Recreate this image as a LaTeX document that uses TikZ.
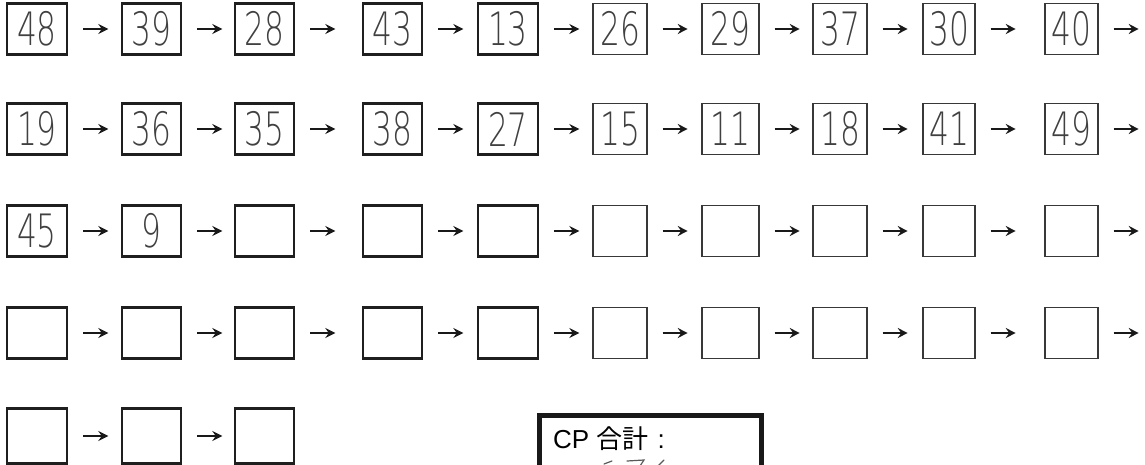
\documentclass[tikz,border=0pt]{standalone}
\usepackage{fontspec}
\setmainfont{Liberation Sans}
\newfontfamily\hand[FakeStretch=0.68]{DejaVu Sans ExtraLight}
\newfontfamily\cjk{Noto Sans CJK JP}
\usetikzlibrary{arrows.meta}
\begin{document}
\begin{tikzpicture}[x=1pt,y=-1pt,
  boxbase/.style={draw, inner sep=0pt, minimum height=51pt,
    font=\hand\fontsize{46}{46}\selectfont, text=black!75},
  boxthick/.style={boxbase, draw=black!88, line width=2.6pt},
  boxthin/.style={boxbase, draw=black!78, line width=1.4pt},
  arr/.style={draw=black!90, line width=1.9pt,
    -{Stealth[length=10pt,width=10pt,inset=3.5pt]}},
  cpbox/.style={draw=black!90, line width=5pt, anchor=north west,
    minimum width=222pt, minimum height=80pt, inner sep=0pt},
  cplabel/.style={anchor=base west, inner sep=0pt, font=\fontsize{26}{26}\selectfont},
  hw/.style={draw=black!65, line width=1.2pt, line cap=round}
]
\useasboundingbox (0,0) rectangle (1145,465);
\clip (0,0) rectangle (1145,465);

% row 1
\foreach \c/\x/\w/\t in {1/37/60/48,2/151.5/59/39,3/264.5/59/28,4/392.5/59/43,5/508/60/13,
  6/620/54/26,7/730.5/57/29,8/840/54/37,9/949/52/30,10/1071.5/53/40}{
  \ifnum\c<6 \def\st{boxthick}\else\def\st{boxthin}\fi
  \node[\st, minimum width=\w pt] (b1-\c) at (\x,29) {\t};
}
% row 2
\foreach \c/\x/\w/\t in {1/37/60/19,2/151.5/59/36,3/264.5/59/35,4/392.5/59/38,5/508/60/27,
  6/620/54/15,7/730.5/57/11,8/840/54/18,9/949/52/41,10/1071.5/53/49}{
  \ifnum\c<6 \def\st{boxthick}\else\def\st{boxthin}\fi
  \node[\st, minimum width=\w pt] (b2-\c) at (\x,129) {\t};
}
% row 3
\foreach \c/\x/\w/\t in {1/37/60/45,2/151.5/59/9,3/264.5/59/,4/392.5/59/,5/508/60/,
  6/620/54/,7/730.5/57/,8/840/54/,9/949/52/,10/1071.5/53/}{
  \ifnum\c<6 \def\st{boxthick}\else\def\st{boxthin}\fi
  \node[\st, minimum width=\w pt] (b3-\c) at (\x,231) {\t};
}
% row 4
\foreach \c/\x/\w in {1/37/60,2/151.5/59,3/264.5/59,4/392.5/59,5/508/60,
  6/620/54,7/730.5/57,8/840/54,9/949/52,10/1071.5/53}{
  \ifnum\c<6 \def\st{boxthick}\else\def\st{boxthin}\fi
  \node[\st, minimum width=\w pt] (b4-\c) at (\x,333) {};
}
% row 5
\foreach \c/\x/\w in {1/37/60,2/151.5/59,3/264.5/59}{
  \node[boxthick, minimum width=\w pt, minimum height=55pt] (b5-\c) at (\x,436) {};
}

% arrows
\foreach \r in {1,2,3,4}{
  \foreach \c in {1,...,10}{
    \draw[arr] ([xshift=15pt]b\r-\c.east) -- ++(25,0);
  }
}
\foreach \c in {1,2}{
  \draw[arr] ([xshift=15pt]b5-\c.east) -- ++(25,0);
}

% CP box
\node[cpbox] (cp) at (537,412.5) {};
\node[cplabel] (cptext) at (553,448) {CP {\cjk 合計}\hspace{9pt}:};

% partial handwriting at the cut edge
\draw[hw] (604,464) -- (612,461);
\draw[hw] (627,461) -- (644,460) -- (640,466);
\draw[hw] (664,460) -- (657,467);
\end{tikzpicture}
\end{document}
